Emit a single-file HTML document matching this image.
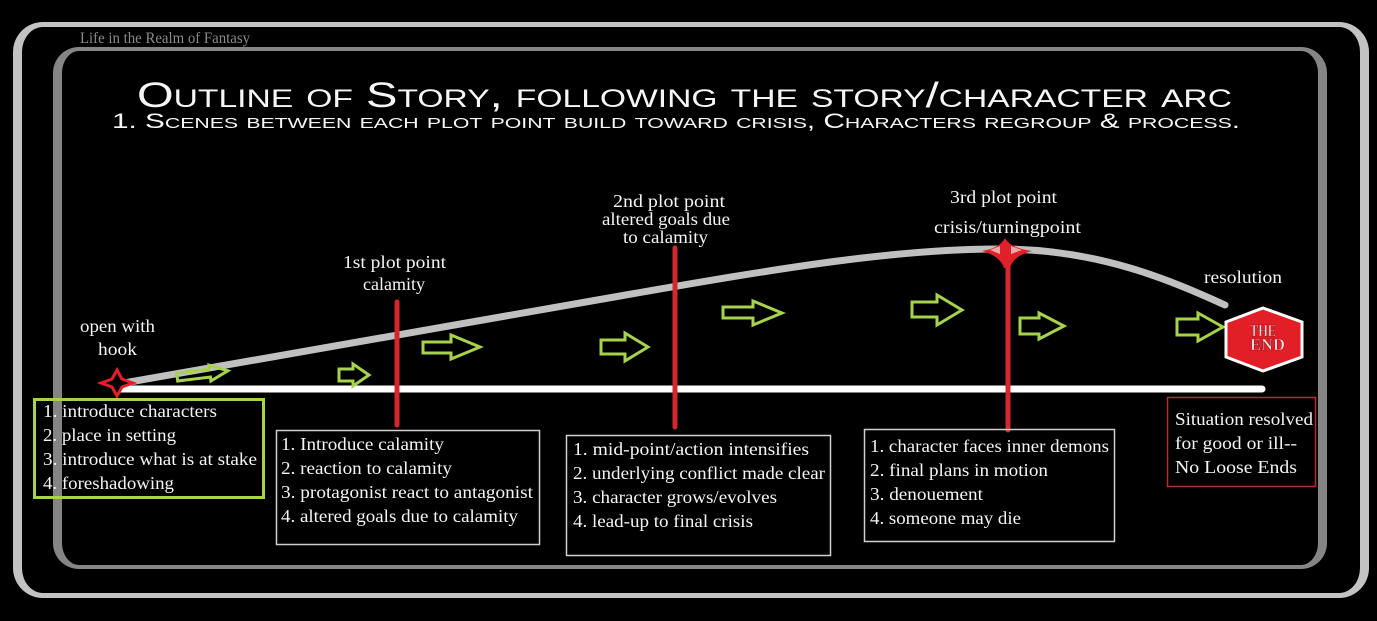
<!DOCTYPE html>
<html>
<head>
<meta charset="utf-8">
<style>
html,body{margin:0;padding:0;background:#000;}
body{width:1377px;height:621px;position:relative;overflow:hidden;}
.outer{position:absolute;left:13px;top:22px;width:1338px;height:566px;border-style:solid;border-color:#c3c3c3;border-width:5px 9px;border-radius:30px;}
.inner{position:absolute;left:53px;top:47px;width:1256px;height:514px;border-style:solid;border-color:#858585;border-width:4px 9px;border-radius:26px;}
svg{position:absolute;left:0;top:0;}
</style>
</head>
<body>
<div class="outer"></div>
<div class="inner"></div>
<svg width="1377" height="621" viewBox="0 0 1377 621" xmlns="http://www.w3.org/2000/svg">
  <!-- watermark -->
  <text x="80" y="43" font-family="Liberation Serif, serif" style="font-family:'Liberation Serif',serif" font-size="16" fill="#8a8a8a" textLength="170" lengthAdjust="spacingAndGlyphs">Life in the Realm of Fantasy</text>

  <!-- titles -->
  <text x="137" y="107" font-size="35" fill="#f6f6f6" style="font-family:'Liberation Sans',sans-serif;font-variant:small-caps;" textLength="1095" lengthAdjust="spacingAndGlyphs">Outline of Story, following the story/character arc</text>
  <text x="112" y="128" font-size="21" fill="#f6f6f6" style="font-family:'Liberation Sans',sans-serif;font-variant:small-caps;" textLength="1128" lengthAdjust="spacingAndGlyphs">1. Scenes between each plot point build toward crisis, Characters regroup &amp; process.</text>

  <!-- baseline -->
  <line x1="118" y1="389" x2="1262" y2="389" stroke="#ffffff" stroke-width="7" stroke-linecap="round"/>

  <!-- arc -->
  <path d="M118,384 L620,296 C780,268 900,248 1005,249 C1100,250 1170,280 1225,305" fill="none" stroke="#c0c0c0" stroke-width="7" stroke-linecap="round"/>

  <!-- red verticals -->
  <line x1="397" y1="302" x2="397" y2="425" stroke="#d3282e" stroke-width="5" stroke-linecap="round"/>
  <line x1="675" y1="248" x2="675" y2="427" stroke="#d3282e" stroke-width="5" stroke-linecap="round"/>
  <line x1="1008" y1="262" x2="1008" y2="430" stroke="#d3282e" stroke-width="5" stroke-linecap="round"/>

  <!-- start star -->
  <path d="M101,383 L112,379 L117,370 L122,379 L133,383 L122,387 L117,396 L112,387 Z" fill="#000" stroke="#e0202a" stroke-width="3" stroke-linejoin="miter"/>

  <!-- crisis star -->
  <path d="M982,251 Q1000,248 1005,238 Q1010,248 1032,251 Q1013,256 1010,268 L1004,268 Q1000,256 982,251 Z" fill="#e0202a"/>
  <path d="M990,250 L1000,246 L1000,254 Z" fill="#f2a8a8"/>
  <path d="M1022,250 L1011,246 L1011,254 Z" fill="#f2a8a8"/>

  <!-- green arrows -->
  <g fill="none" stroke="#a6d34b" stroke-width="3" stroke-linejoin="miter">
    <polygon transform="rotate(-7 202 374)" points="177,370 210,370 210,366 228,374 210,382 210,378 177,378"/>
    <polygon points="339,369 353,369 353,364 369,375 353,386 353,381 339,381"/>
    <polygon points="423,342 451,342 451,335 480,347 451,359 451,353 423,353"/>
    <polygon points="601,340 625,340 625,333 648,347 625,361 625,354 601,354"/>
    <polygon points="723,307 753,307 753,301 782,313 753,325 753,318 723,318"/>
    <polygon points="912,302 937,302 937,295 962,310 937,325 937,317 912,317"/>
    <polygon points="1020,318 1039,318 1039,313 1064,326 1039,339 1039,334 1020,334"/>
    <polygon points="1177,319 1198,319 1198,313 1223,327 1198,341 1198,335 1177,335"/>
  </g>

  <!-- THE END hexagon -->
  <polygon points="1263,308 1302,322 1302,357 1263,371 1226,357 1226,322" fill="#e21f26" stroke="#ffffff" stroke-width="3"/>
  <g font-family="Liberation Serif, serif" style="font-family:'Liberation Serif',serif" font-size="17" font-weight="bold" fill="#f7dede" stroke="#7a1010" stroke-width="0.5">
    <text x="1250" y="336" textLength="26" lengthAdjust="spacingAndGlyphs">THE</text>
    <text x="1250" y="350" textLength="35" lengthAdjust="spacingAndGlyphs">END</text>
  </g>

  <!-- labels and box text -->
  <g font-family="Liberation Serif, serif" style="font-family:'Liberation Serif',serif" font-size="18" fill="#f4f4f4">
    <text x="80" y="332" textLength="75" lengthAdjust="spacingAndGlyphs">open with</text>
    <text x="98" y="355" textLength="39" lengthAdjust="spacingAndGlyphs">hook</text>
    <text x="343" y="268" textLength="103" lengthAdjust="spacingAndGlyphs">1st plot point</text>
    <text x="363" y="290" textLength="62" lengthAdjust="spacingAndGlyphs">calamity</text>
    <text x="613" y="207" textLength="112" lengthAdjust="spacingAndGlyphs">2nd plot point</text>
    <text x="602" y="225" textLength="128" lengthAdjust="spacingAndGlyphs">altered goals due</text>
    <text x="623" y="243" textLength="85" lengthAdjust="spacingAndGlyphs">to calamity</text>
    <text x="950" y="203" textLength="107" lengthAdjust="spacingAndGlyphs">3rd plot point</text>
    <text x="934" y="233" textLength="147" lengthAdjust="spacingAndGlyphs">crisis/turningpoint</text>
    <text x="1204" y="283" textLength="78" lengthAdjust="spacingAndGlyphs">resolution</text>

    <text x="43" y="417" textLength="174" lengthAdjust="spacingAndGlyphs">1. introduce characters</text>
    <text x="43" y="441" textLength="133" lengthAdjust="spacingAndGlyphs">2. place in setting</text>
    <text x="43" y="465" textLength="214" lengthAdjust="spacingAndGlyphs">3. introduce what is at stake</text>
    <text x="43" y="489" textLength="131" lengthAdjust="spacingAndGlyphs">4. foreshadowing</text>

    <text x="281" y="450" textLength="163" lengthAdjust="spacingAndGlyphs">1. Introduce calamity</text>
    <text x="281" y="474" textLength="171" lengthAdjust="spacingAndGlyphs">2. reaction to calamity</text>
    <text x="281" y="498" textLength="252" lengthAdjust="spacingAndGlyphs">3. protagonist react to antagonist</text>
    <text x="281" y="522" textLength="237" lengthAdjust="spacingAndGlyphs">4. altered goals due to calamity</text>

    <text x="573" y="455" textLength="236" lengthAdjust="spacingAndGlyphs">1. mid-point/action intensifies</text>
    <text x="573" y="479" textLength="252" lengthAdjust="spacingAndGlyphs">2. underlying conflict made clear</text>
    <text x="573" y="503" textLength="204" lengthAdjust="spacingAndGlyphs">3. character grows/evolves</text>
    <text x="573" y="527" textLength="180" lengthAdjust="spacingAndGlyphs">4. lead-up to final crisis</text>

    <text x="870" y="452" textLength="239" lengthAdjust="spacingAndGlyphs">1. character faces inner demons</text>
    <text x="870" y="476" textLength="178" lengthAdjust="spacingAndGlyphs">2. final plans in motion</text>
    <text x="870" y="500" textLength="113" lengthAdjust="spacingAndGlyphs">3. denouement</text>
    <text x="870" y="524" textLength="151" lengthAdjust="spacingAndGlyphs">4. someone may die</text>

    <text x="1175" y="425" textLength="138" lengthAdjust="spacingAndGlyphs">Situation resolved</text>
    <text x="1175" y="449" textLength="122" lengthAdjust="spacingAndGlyphs">for good or ill--</text>
    <text x="1175" y="473" textLength="122" lengthAdjust="spacingAndGlyphs">No Loose Ends</text>
  </g>

  <!-- boxes -->
  <rect x="34.5" y="399.5" width="229" height="98" fill="none" stroke="#a8d24e" stroke-width="3"/>
  <rect x="276.5" y="430.5" width="263" height="114" fill="none" stroke="#d0d0d0" stroke-width="1.5"/>
  <rect x="566.5" y="435.5" width="264" height="120" fill="none" stroke="#d0d0d0" stroke-width="1.5"/>
  <rect x="864.5" y="429.5" width="250" height="112" fill="none" stroke="#d0d0d0" stroke-width="1.5"/>
  <rect x="1167.5" y="397.5" width="148" height="89" fill="none" stroke="#b03030" stroke-width="1.5"/>
</svg>
</body>
</html>
